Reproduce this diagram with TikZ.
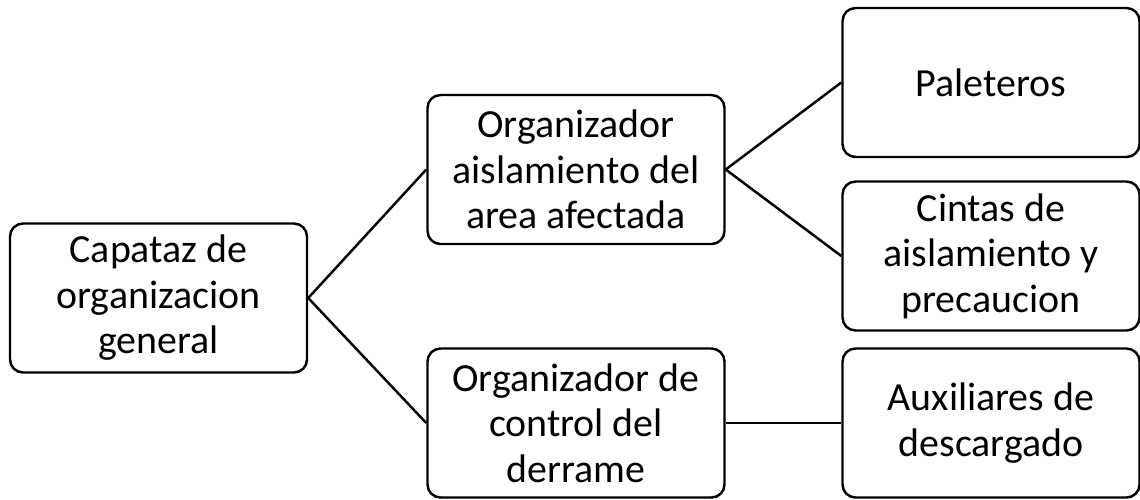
\documentclass[tikz,border=0pt]{standalone}
\usepackage{fontspec}
\setmainfont{Carlito}
\usepackage{tikz}
\usetikzlibrary{positioning}

\begin{document}
\begin{tikzpicture}[line width=1.4pt,
role/.style={draw,rounded corners=0.26cm,align=center,minimum width=5.94cm,minimum height=2.98cm,inner sep=2pt,font=\fontsize{22.7}{25.9}\selectfont}]
\useasboundingbox (0,0) rectangle (22.8,-9.98);
\node[role] (capataz) at (3.17,-5.96) {Capataz de\\organizacion\\general};
\node[role] (aislam) at (11.52,-3.39) {Organizador\\aislamiento del\\area afectada};
\node[role] (control) at (11.52,-8.46) {Organizador de\\control del\\derrame};
\node[role] (paleteros) at (19.82,-1.65) {Paleteros};
\node[role] (cintas) at (19.82,-5.12) {Cintas de\\aislamiento y\\precaucion};
\node[role] (auxil) at (19.82,-8.46) {Auxiliares de\\descargado};
\foreach \a/\b in {capataz/aislam,capataz/control,aislam/paleteros,aislam/cintas,control/auxil}
  \draw (\a.east)--(\b.west);
\end{tikzpicture}
\end{document}
